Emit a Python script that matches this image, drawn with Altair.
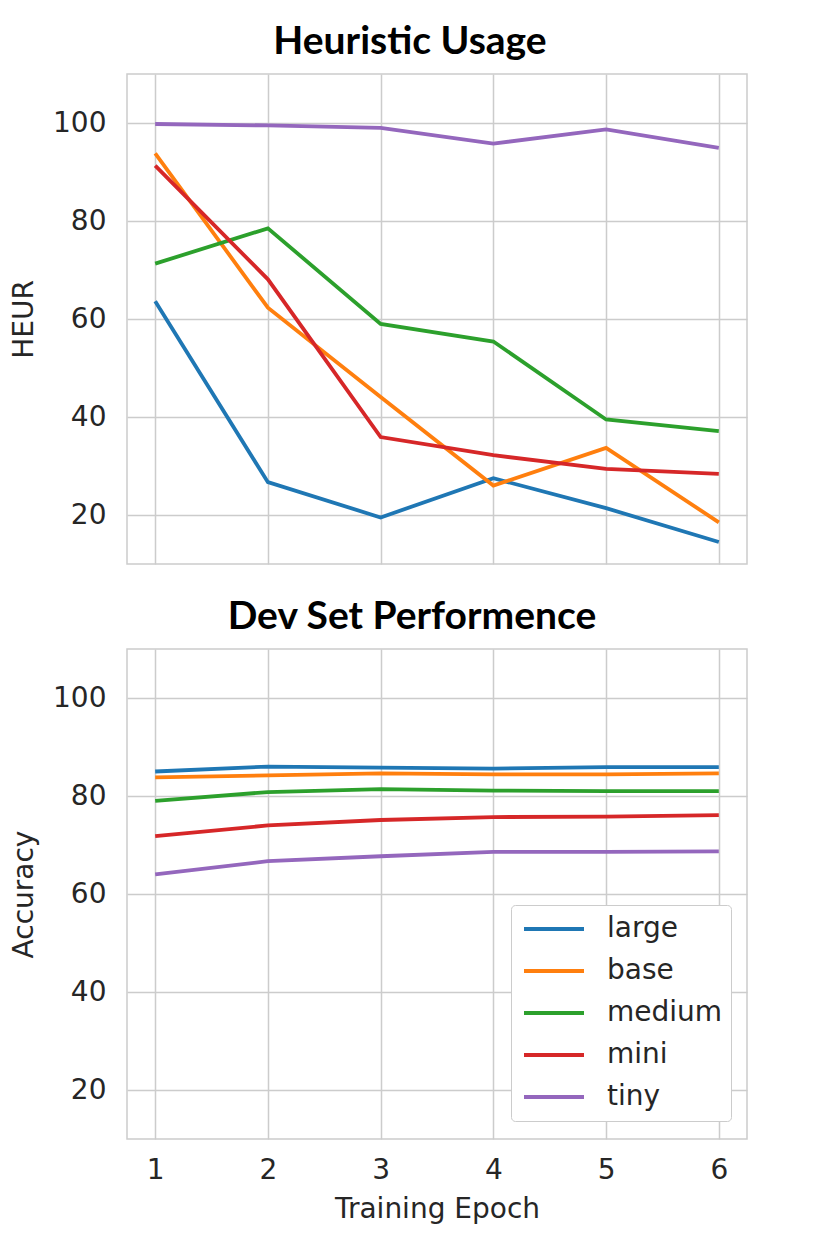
import altair as alt
import pandas as pd

epochs = [1, 2, 3, 4, 5, 6]
models = ["large", "base", "medium", "mini", "tiny"]
colors = ["#1f77b4", "#ff7f0e", "#2ca02c", "#d62728", "#9467bd"]

heur_large = [63.6, 26.7, 19.5, 27.5, 21.4, 14.5]
heur_base = [93.8, 62.3, 44.1, 26.0, 33.7, 18.5]
heur_medium = [71.3, 78.5, 59.0, 55.4, 39.5, 37.1]
heur_mini = [91.3, 68.1, 35.9, 32.2, 29.4, 28.4]
heur_tiny = [99.8, 99.5, 99.0, 95.8, 98.7, 94.9]

acc_large = [85.0, 86.0, 85.8, 85.6, 85.9, 85.9]
acc_base = [83.8, 84.2, 84.6, 84.4, 84.4, 84.6]
acc_medium = [79.0, 80.8, 81.4, 81.1, 81.0, 81.0]
acc_mini = [71.8, 74.0, 75.1, 75.7, 75.8, 76.1]
acc_tiny = [64.0, 66.7, 67.7, 68.6, 68.6, 68.7]

heur = {"large": heur_large, "base": heur_base, "medium": heur_medium,
        "mini": heur_mini, "tiny": heur_tiny}
acc = {"large": acc_large, "base": acc_base, "medium": acc_medium,
       "mini": acc_mini, "tiny": acc_tiny}

rows_h = [{"epoch": e, "model": m, "value": v}
          for m in models for e, v in zip(epochs, heur[m])]
rows_a = [{"epoch": e, "model": m, "value": v}
          for m in models for e, v in zip(epochs, acc[m])]
df_h = pd.DataFrame(rows_h)
df_a = pd.DataFrame(rows_a)

x_scale = alt.Scale(domain=[0.75, 6.25], nice=False, zero=False)
y_scale = alt.Scale(domain=[10, 110], nice=False, zero=False)
color_scale = alt.Scale(domain=models, range=colors)

top = alt.Chart(df_h, title=alt.Title("Heuristic Usage", dx=-27)).mark_line(
    strokeWidth=3.8, clip=True).encode(
    x=alt.X("epoch:Q", scale=x_scale,
            axis=alt.Axis(values=epochs, labels=False, title=None)),
    y=alt.Y("value:Q", scale=y_scale,
            axis=alt.Axis(values=[20, 40, 60, 80, 100], title="HEUR")),
    color=alt.Color("model:N", scale=color_scale, legend=None),
    order=alt.Order("epoch:Q"),
).properties(width=620, height=490)

bottom = alt.Chart(df_a, title=alt.Title("Dev Set Performence", dx=-25)).mark_line(
    strokeWidth=3.8, clip=True).encode(
    x=alt.X("epoch:Q", scale=x_scale,
            axis=alt.Axis(values=epochs, format="d", title="Training Epoch")),
    y=alt.Y("value:Q", scale=y_scale,
            axis=alt.Axis(values=[20, 40, 60, 80, 100], title="Accuracy")),
    color=alt.Color("model:N", scale=color_scale, sort=models,
                    legend=alt.Legend(
                        title=None, orient="none", legendX=384, legendY=256,
                        symbolType="stroke", symbolSize=3600, symbolStrokeWidth=3.8,
                        symbolOffset=3, clipHeight=32,
                        labelFont="DejaVu Sans", labelFontSize=28, labelColor="#262626",
                        labelOffset=21, rowPadding=10, padding=8,
                        strokeColor="#cccccc",
                        fillColor="white", cornerRadius=4,
                    )),
    order=alt.Order("epoch:Q"),
).properties(width=620, height=490)

chart = alt.vconcat(top, bottom, spacing=32).resolve_legend(
    color="independent"
).properties(
    padding={"left": 1, "top": 14, "right": 5, "bottom": 5}
).configure_view(
    stroke="#cccccc", strokeWidth=1.5
).configure_axis(
    gridColor="#cccccc", gridWidth=1.5, domain=False, ticks=False,
    labelFont="DejaVu Sans", labelFontSize=28, labelColor="#262626",
    titleFont="DejaVu Sans", titleFontSize=28, titleColor="#262626",
    titleFontWeight="normal",
).configure_axisY(
    labelPadding=21, titlePadding=14
).configure_axisX(
    labelPadding=17, titlePadding=11
).configure_title(
    font="Lato", fontSize=39, fontWeight="bold", color="black",
    anchor="middle", offset=12
)

chart.save("out.html", embed_options={"renderer": "svg", "actions": False})
